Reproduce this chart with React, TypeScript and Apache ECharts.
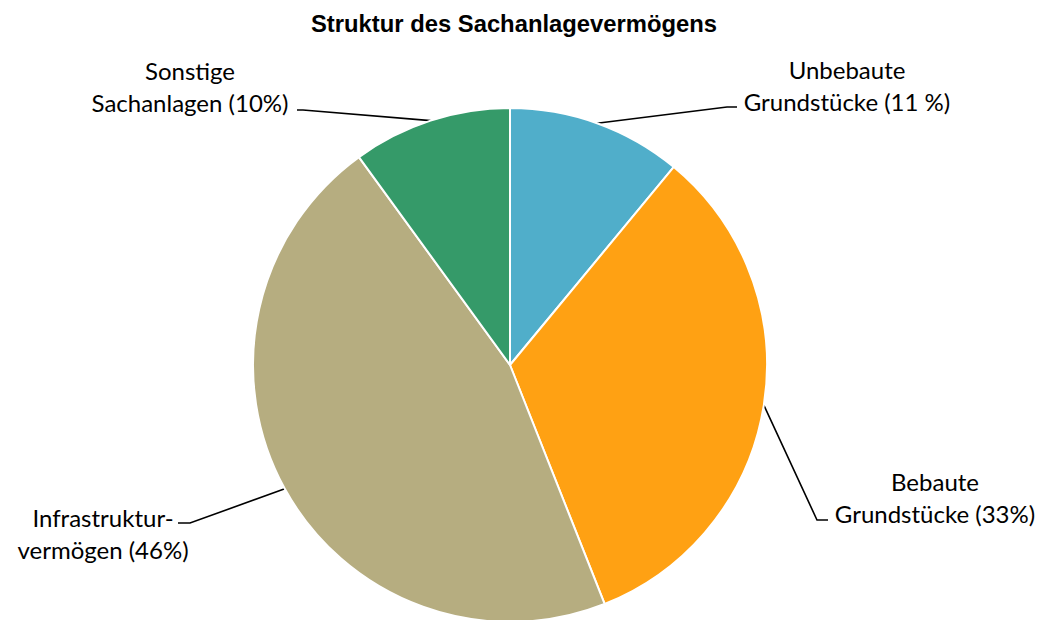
import React, { useEffect, useRef } from "react";
import * as echarts from "echarts";

const categories = [
  "Unbebaute\nGrundstücke (11 %)",
  "Bebaute\nGrundstücke (33%)",
  "Infrastruktur-\nvermögen (46%)",
  "Sonstige\nSachanlagen (10%)",
];
const shares = [11, 33, 46, 10];
const colors = ["#50AECA", "#FFA113", "#B6AD80", "#359A69"];

// label placement (label centre and leader-line elbow / end)
const labelPlacement = [
  { x: 847, y: 85, elbow: [727, 107], end: [737, 107] },
  { x: 935, y: 497, elbow: [817, 520], end: [828, 520] },
  { x: 103, y: 533, elbow: [190, 523], end: [178, 523] },
  { x: 190, y: 86, elbow: [303, 110], end: [297, 110] },
];

export default function App() {
  const ref = useRef<HTMLDivElement>(null);
  useEffect(() => {
    if (!ref.current) return;
    const chart = echarts.init(ref.current, undefined, { renderer: "svg" });
    chart.setOption({
      animation: false,
      backgroundColor: "#ffffff",
      title: {
        text: "Struktur des Sachanlagevermögens",
        left: 509,
        textAlign: "center",
        top: 6,
        textStyle: {
          fontFamily: "Liberation Sans, Arial, sans-serif",
          fontWeight: "bold",
          fontSize: 23.8,
          color: "#000000",
        },
      },
      series: [
        {
          type: "pie",
          center: [510, 365],
          radius: 257,
          startAngle: 90,
          clockwise: true,
          avoidLabelOverlap: false,
          itemStyle: { borderColor: "#ffffff", borderWidth: 2 },
          label: {
            show: true,
            formatter: (p: any) => p.name,
            fontFamily: "Lato, sans-serif",
            fontSize: 24,
            lineHeight: 32,
            color: "#000000",
            align: "center",
          },
          labelLine: {
            show: true,
            lineStyle: { color: "#000000", width: 1.6 },
          },
          labelLayout: (params: any) => {
            const pl = labelPlacement[params.dataIndex];
            const start = params.labelLinePoints
              ? params.labelLinePoints[0]
              : pl.elbow;
            return {
              x: pl.x,
              y: pl.y,
              align: "center",
              verticalAlign: "middle",
              labelLinePoints: [start, pl.elbow, pl.end],
            };
          },
          emphasis: { disabled: true },
          data: categories.map((name, i) => ({
            name,
            value: shares[i],
            itemStyle: { color: colors[i] },
          })),
        },
      ],
    });
    return () => chart.dispose();
  }, []);
  return (
    <div
      ref={ref}
      style={{ position: "fixed", left: 0, top: 0, width: 1043, height: 620 }}
    />
  );
}
